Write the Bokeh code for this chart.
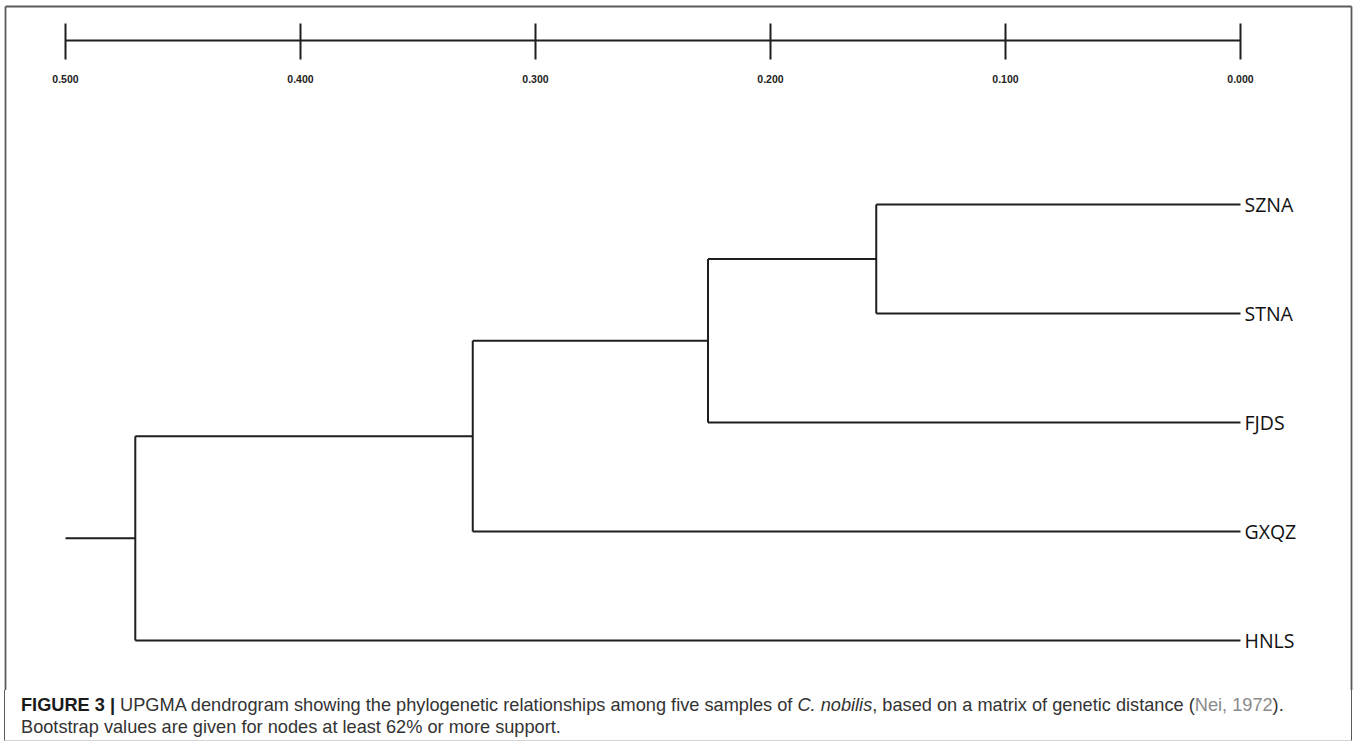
from bokeh.plotting import figure
from bokeh.models import Range1d, Div
from bokeh.layouts import column
from bokeh.core.properties import value
from bokeh.embed import file_html
from bokeh.resources import INLINE

# ---------------- data ----------------
leaves = ["SZNA", "STNA", "FJDS", "GXQZ", "HNLS"]
# UPGMA merges: (left cluster, right cluster, height)
merge_left = ["SZNA", "n1", "n2", "n3"]
merge_right = ["STNA", "FJDS", "GXQZ", "HNLS"]
merge_names = ["n1", "n2", "n3", "n4"]
merge_heights = [0.1550, 0.2266, 0.3267, 0.4703]
root_start = 0.500

scale_ticks = [0.5, 0.4, 0.3, 0.2, 0.1, 0.0]
scale_labels = ["0.500", "0.400", "0.300", "0.200", "0.100", "0.000"]

caption_bold = "FIGURE 3 |"
caption_a = "UPGMA dendrogram showing the phylogenetic relationships among five samples of"
caption_ital = "C. nobilis"
caption_b = ", based on a matrix of genetic distance ("
caption_ref = "Nei, 1972"
caption_c = ")."
caption_line2 = "Bootstrap values are given for nodes at least 62% or more support."

# ---------------- layout ----------------
W, H, HC = 1354, 690, 52
XL, XR = 0.527660, -0.048511
YB, YT = 4.4587, -1.8716

p = figure(width=W, height=H, output_backend="svg", toolbar_location=None,
           x_range=Range1d(XL, XR), y_range=Range1d(YB, YT),
           min_border=0, x_axis_location=None, y_axis_location=None)
p.grid.visible = False
p.outline_line_color = None
p.background_fill_color = "white"
p.border_fill_color = "white"

# compute node positions
pos = {name: (0.0, float(i)) for i, name in enumerate(leaves)}
hx0, hx1, hy = [], [], []
vx, vy0, vy1 = [], [], []
for l, r, n, h in zip(merge_left, merge_right, merge_names, merge_heights):
    (lx, ly), (rx, ry) = pos[l], pos[r]
    hx0 += [lx, rx]; hx1 += [h, h]; hy += [ly, ry]
    vx.append(h); vy0.append(ly); vy1.append(ry)
    pos[n] = (h, (ly + ry) / 2)
rx_, ry_ = pos[merge_names[-1]]
hx0.append(rx_); hx1.append(root_start); hy.append(ry_)

lc = "#1e1e1e"
p.segment(x0=hx0, y0=hy, x1=hx1, y1=hy, line_color=lc, line_width=2)
p.segment(x0=vx, y0=vy0, x1=vx, y1=vy1, line_color=lc, line_width=2)

# leaf labels
p.text(x=[0.0] * len(leaves), y=list(range(len(leaves))), text=leaves,
       x_offset=4, text_align="left", text_baseline="middle",
       text_font=value("Open Sans"), text_font_size="19.5px", text_color="#111111")

# scale bar
sb_y, sb_t0, sb_t1, sb_lab = -1.5046, -1.661, -1.330, -1.147
p.segment(x0=[scale_ticks[0]], y0=[sb_y], x1=[scale_ticks[-1]], y1=[sb_y],
          line_color=lc, line_width=2)
p.segment(x0=scale_ticks, y0=[sb_t0] * len(scale_ticks), x1=scale_ticks,
          y1=[sb_t1] * len(scale_ticks), line_color=lc, line_width=2)
p.text(x=scale_ticks, y=[sb_lab] * len(scale_ticks), text=scale_labels,
       text_align="center", text_baseline="middle",
       text_font=value("Liberation Sans"), text_font_size="10.5px",
       text_font_style="bold", text_color="#222222")

# outer border (top, left, right) of the figure panel
bc = "#5a5a5a"
BL, BR, BT = 0.52553, -0.047234, -1.8165
p.segment(x0=[BL, BL, BR], y0=[BT, BT, BT], x1=[BR, BL, BR], y1=[BT, YB, YB],
          line_color=bc, line_width=1.8)

html = (
    "<div style=\"margin-left:4px;width:1348px;height:51px;box-sizing:border-box;"
    "border-left:1.8px solid #5a5a5a;border-right:1.8px solid #5a5a5a;"
    "border-bottom:1.5px solid #d4d4d4;padding:4px 0 0 16px;"
    "font-family:'Liberation Sans',Arial,sans-serif;font-size:18.2px;"
    "line-height:22px;color:#333;white-space:nowrap;background:white;\">"
    f"<b style='color:#1a1a1a'>{caption_bold}</b> {caption_a} <i>{caption_ital}</i>{caption_b}"
    f"<span style='color:#8a8a8a'>{caption_ref}</span>{caption_c}<br>{caption_line2}</div>"
)
cap = Div(text=html, width=W, height=HC, margin=0)

layout = column(p, cap, spacing=0)
open("out.html", "w").write(file_html(layout, INLINE))
